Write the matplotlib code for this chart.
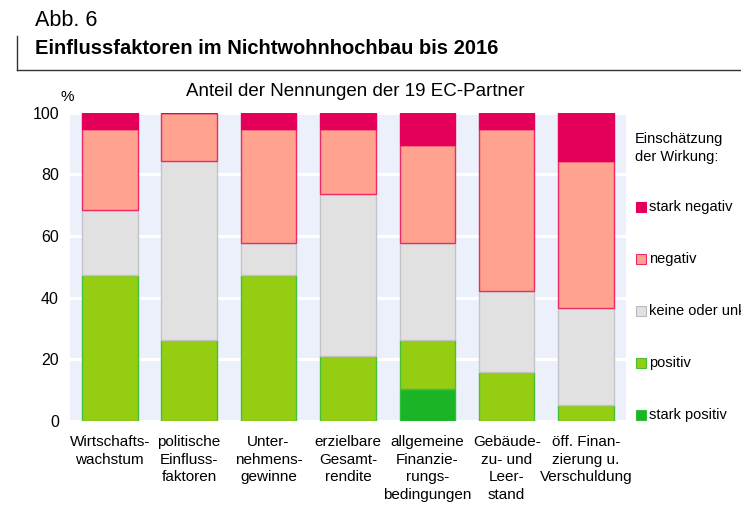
import matplotlib.pyplot as plt
import numpy as np

plt.rcParams['font.family'] = ['Liberation Sans', 'DejaVu Sans']

# Anteile der Nennungen (19 EC-Partner), in %
categories = ["Wirtschafts-\nwachstum", "politische\nEinfluss-\nfaktoren", "Unter-\nnehmens-\ngewinne",
              "erzielbare\nGesamt-\nrendite", "allgemeine\nFinanzie-\nrungs-\nbedingungen",
              "Gebäude-\nzu- und\nLeer-\nstand", "öff. Finan-\nzierung u.\nVerschuldung"]
stark_positiv = [0.0, 0.0, 0.0, 0.0, 10.5, 0.0, 0.0]
positiv = [47.4, 26.3, 47.4, 21.1, 15.8, 15.8, 5.3]
keine = [21.0, 57.9, 10.5, 52.6, 31.6, 26.3, 31.5]
negativ = [26.3, 15.8, 36.8, 21.0, 31.6, 52.6, 47.4]
stark_negativ = [5.3, 0.0, 5.3, 5.3, 10.5, 5.3, 15.8]

series = [
    ("stark positiv", stark_positiv, "#1bb426", "#2fbf3a"),
    ("positiv", positiv, "#95cd12", "#44c03a"),
    ("keine oder unklar", keine, "#e1e1e1", "#c4c4c8"),
    ("negativ", negativ, "#ffa28f", "#ee2a66"),
    ("stark negativ", stark_negativ, "#e4005a", "#e4005a"),
]

fig = plt.figure(figsize=(7.41, 5.08), dpi=100)
ax = fig.add_axes([0.0945, 0.171, 0.750, 0.607])
ax.set_facecolor("#ebf0fa")

x = np.arange(len(categories))
bottom = np.zeros(len(categories))
for name, vals, fc, ec in series:
    vals = np.array(vals)
    ax.bar(x, vals, 0.7, bottom=bottom, color=fc, edgecolor=ec, linewidth=1.0, zorder=3)
    bottom += vals

ax.set_xlim(-0.5, 6.5)
ax.set_ylim(0, 100)
ax.set_yticks([0, 20, 40, 60, 80, 100])
ax.yaxis.grid(True, color="white", linewidth=2.2, zorder=1)
ax.set_axisbelow(True)
for s in ax.spines.values():
    s.set_visible(False)
ax.tick_params(axis="y", length=0, labelsize=11.5, pad=8)
ax.tick_params(axis="x", length=0, labelsize=11, pad=10)
ax.set_xticks(x)
ax.set_xticklabels(categories, linespacing=1.32)

fig.text(67 / 741, 1 - 97 / 508, "%", fontsize=11, ha="center", va="center")
fig.text(355 / 741, 1 - 92 / 508, "Anteil der Nennungen der 19 EC-Partner", fontsize=13.5,
         ha="center", va="center")
fig.text(35 / 741, 1 - 20 / 508, "Abb. 6", fontsize=15.5, ha="left", va="center")
fig.text(35 / 741, 1 - 48 / 508, "Einflussfaktoren im Nichtwohnhochbau bis 2016", fontsize=14.5,
         fontweight="bold", ha="left", va="center")
fig.add_artist(plt.Line2D([17 / 741, 17 / 741], [1 - 36 / 508, 1 - 70 / 508], color="#333333",
                          linewidth=1, transform=fig.transFigure))
fig.add_artist(plt.Line2D([17 / 741, 1.0], [1 - 70 / 508, 1 - 70 / 508], color="#333333",
                          linewidth=1, transform=fig.transFigure))

# Legende
fig.text(635 / 741, 1 - 148 / 508, "Einschätzung\nder Wirkung:", fontsize=10.5, ha="left",
         va="center", linespacing=1.3)
leg_y = [207, 259, 311, 363, 415]
for (name, vals, fc, ec), yy in zip(series[::-1], leg_y):
    fig.patches.append(plt.Rectangle((636 / 741, 1 - (yy + 5) / 508), 10 / 741, 10 / 508,
                                     facecolor=fc, edgecolor=ec if name != "keine oder unklar" else "#bbbbbb",
                                     linewidth=0.8, transform=fig.transFigure))
    fig.text(649 / 741, 1 - yy / 508, name, fontsize=10.5, ha="left", va="center")

plt.savefig("out.png", dpi=100)
